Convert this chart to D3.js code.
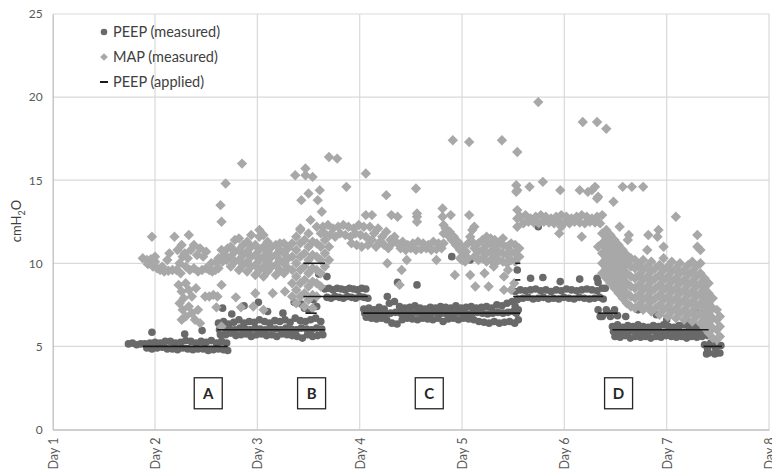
<!DOCTYPE html>
<html><head><meta charset="utf-8">
<script src="https://cdn.jsdelivr.net/npm/d3@7"></script>
<style>body{margin:0;background:#fff} svg text{font-family:Lato,"Open Sans",sans-serif}</style>
</head><body><svg id="c" width="772" height="473"></svg>
<script>
// ---------- data ----------
const yTicks = [0, 5, 10, 15, 20, 25];
const dayValues = [1, 2, 3, 4, 5, 6, 7, 8];
const dayLabels = ["Day 1", "Day 2", "Day 3", "Day 4", "Day 5", "Day 6", "Day 7", "Day 8"];
const seriesNames = ["PEEP (measured)", "MAP (measured)", "PEEP (applied)"];

// PEEP applied: start day, end day, value
const applyStart = [1.88, 2.61, 3.45, 3.45, 3.47, 4.03, 5.52, 5.52, 5.50, 6.33, 6.47, 7.36];
const applyEnd   = [2.71, 3.66, 3.66, 4.08, 3.58, 5.57, 5.57, 5.57, 6.38, 6.52, 7.41, 7.54];
const applyValue = [5, 6, 10, 8, 7, 7, 10, 9, 8, 7, 6, 5];

// PEEP measured [day, cmH2O]
const peepMeasured = [
[1.74,5.15],[1.78,5.2],[1.82,5.1],[1.86,5.15],
[1.90,5.15],[1.95,5.2],[2.00,5.25],[2.05,5.2],[2.10,5.3],[2.15,5.3],[2.20,5.2],[2.25,5.25],[2.30,5.35],[2.35,5.3],[2.40,5.2],[2.45,5.3],[2.50,5.25],[2.55,5.35],[2.60,5.2],[2.65,5.3],[2.70,5.2],
[1.92,4.9],[1.97,4.85],[2.02,4.9],[2.07,4.95],[2.12,4.85],[2.17,4.85],[2.22,4.8],[2.27,4.9],[2.32,4.85],[2.37,4.8],[2.42,4.85],[2.47,4.85],[2.52,4.75],[2.57,4.8],[2.62,4.85],[2.67,4.8],[2.71,4.75],
[1.97,5.85],[2.29,5.75],[2.46,5.95],[2.64,5.7],
[2.62,6.4],[2.67,6.5],[2.72,6.35],[2.77,6.45],[2.82,6.6],[2.87,6.4],[2.92,6.5],[2.97,6.45],[3.02,6.6],[3.07,6.5],[3.12,6.4],[3.17,6.55],[3.22,6.5],[3.27,6.6],[3.32,6.45],[3.37,6.7],[3.42,6.55],[3.47,6.5],[3.52,6.6],[3.57,6.7],[3.62,6.5],
[2.63,6.0],[2.68,6.1],[2.73,6.05],[2.78,6.0],[2.83,6.1],[2.88,6.05],[2.93,6.0],[2.98,6.1],[3.03,6.05],[3.08,6.0],[3.13,6.1],[3.18,6.05],[3.23,6.0],[3.28,6.1],[3.33,6.05],[3.38,6.0],[3.43,6.1],[3.48,6.05],[3.53,6.0],[3.58,6.1],[3.63,6.05],
[2.64,5.75],[2.69,5.7],[2.74,5.8],[2.79,5.65],[2.84,5.7],[2.89,5.75],[2.94,5.6],[2.99,5.7],[3.04,5.75],[3.09,5.65],[3.14,5.7],[3.19,5.6],[3.24,5.75],[3.29,5.7],[3.34,5.65],[3.39,5.6],[3.44,5.5],[3.49,5.7],[3.54,5.6],[3.59,5.65],[3.64,5.7],
[2.66,7.3],[2.87,7.45],[3.01,7.65],[3.36,7.65],[3.43,7.55],[3.60,9.35],[3.68,9.2],[2.75,6.95],[3.10,7.1],[3.25,7.0],[3.50,7.2],[3.55,7.8],[3.58,7.4],[3.46,7.3],
[3.66,8.45],[3.70,8.5],[3.74,8.4],[3.78,8.5],[3.82,8.45],[3.86,8.4],[3.90,8.5],[3.94,8.45],[3.98,8.4],[4.02,8.5],[4.06,8.45],
[3.68,7.95],[3.72,7.9],[3.76,8.0],[3.80,7.95],[3.84,7.9],[3.88,8.0],[3.92,7.95],[3.96,7.9],[4.00,8.0],[4.04,7.95],[4.08,7.9],
[4.04,7.25],[4.09,7.3],[4.14,7.2],[4.19,7.35],[4.24,7.25],[4.29,7.6],[4.34,7.7],[4.39,7.4],[4.44,7.3],[4.49,7.35],[4.54,7.45],[4.59,7.3],[4.64,7.25],[4.69,7.35],[4.74,7.3],[4.79,7.4],[4.84,7.35],[4.89,7.3],[4.94,7.45],[4.99,7.3],[5.04,7.35],[5.09,7.4],[5.14,7.3],[5.19,7.35],[5.24,7.4],[5.29,7.3],[5.34,7.5],[5.39,7.45],[5.44,7.6],[5.49,7.7],[5.54,7.8],
[4.05,7.0],[4.10,6.95],[4.15,7.05],[4.20,7.0],[4.25,6.95],[4.30,7.0],[4.35,7.05],[4.40,7.0],[4.45,6.95],[4.50,7.0],[4.55,7.05],[4.60,7.0],[4.65,6.95],[4.70,7.0],[4.75,7.05],[4.80,7.0],[4.85,6.95],[4.90,7.0],[4.95,7.05],[5.00,7.0],[5.05,6.95],[5.10,7.0],[5.15,7.05],[5.20,7.0],[5.25,6.95],[5.30,7.0],[5.35,7.05],[5.40,7.0],[5.45,7.05],[5.50,7.1],[5.55,7.2],
[4.065,6.75],[4.115,6.7],[4.165,6.65],[4.215,6.7],[4.265,6.6],[4.315,6.4],[4.365,6.35],[4.415,6.6],[4.465,6.7],[4.515,6.65],[4.565,6.6],[4.615,6.7],[4.665,6.65],[4.715,6.6],[4.765,6.7],[4.815,6.5],[4.865,6.65],[4.915,6.7],[4.965,6.6],[5.015,6.7],[5.065,6.65],[5.115,6.6],[5.165,6.5],[5.215,6.45],[5.265,6.4],[5.315,6.5],[5.365,6.4],[5.415,6.45],[5.465,6.5],[5.515,6.4],[5.55,6.6],
[4.27,8.0],[4.37,8.85],[4.56,8.7],[4.90,10.4],[5.08,10.2],
[5.52,8.3],[5.57,8.4],[5.62,8.35],[5.67,8.4],[5.72,8.45],[5.77,8.35],[5.82,8.4],[5.87,8.3],[5.92,8.4],[5.97,8.35],[6.02,8.45],[6.07,8.4],[6.12,8.35],[6.17,8.4],[6.22,8.45],[6.27,8.4],[6.32,8.35],[6.37,8.5],
[5.545,7.85],[5.595,7.9],[5.645,7.95],[5.695,7.85],[5.745,7.9],[5.795,7.95],[5.845,7.85],[5.895,7.9],[5.945,7.85],[5.995,7.95],[6.045,7.9],[6.095,7.85],[6.145,7.95],[6.195,7.9],[6.245,7.85],[6.295,7.9],[6.345,7.95],[6.38,7.85],
[5.52,7.4],[5.53,7.0],[5.54,9.6],[5.67,9.1],[5.79,9.15],[5.96,8.9],[6.15,9.05],[6.32,9.1],[5.745,12.2],
[6.33,7.2],[6.37,6.8],[6.41,7.2],[6.45,6.8],[6.49,7.2],[6.52,6.85],[6.35,6.8],[6.43,7.0],[6.33,8.85],[6.40,8.5],
[6.47,6.2],[6.52,6.3],[6.57,6.15],[6.62,6.25],[6.67,6.2],[6.72,6.3],[6.77,6.2],[6.82,6.15],[6.87,6.25],[6.92,6.2],[6.97,6.3],[7.02,6.2],[7.07,6.15],[7.12,6.25],[7.17,6.3],[7.22,6.2],[7.27,6.25],[7.32,6.2],[7.37,6.3],
[6.48,5.9],[6.53,5.95],[6.58,5.85],[6.63,5.9],[6.68,5.95],[6.73,5.9],[6.78,5.85],[6.83,5.9],[6.88,5.95],[6.93,5.9],[6.98,5.85],[7.03,5.9],[7.08,5.95],[7.13,5.9],[7.18,5.85],[7.23,5.9],[7.28,5.95],[7.33,5.9],[7.38,5.85],
[6.495,5.6],[6.545,5.55],[6.595,5.65],[6.645,5.5],[6.695,5.6],[6.745,5.55],[6.795,5.6],[6.845,5.5],[6.895,5.6],[6.945,5.55],[6.995,5.65],[7.045,5.6],[7.095,5.55],[7.145,5.6],[7.195,5.5],[7.245,5.6],[7.295,5.55],[7.345,5.6],[7.40,5.65],
[6.60,6.8],[6.72,7.2],[6.90,6.9],[7.00,6.6],[7.12,7.0],[7.20,6.5],[7.28,7.3],
[7.37,5.1],[7.41,4.6],[7.45,5.1],[7.49,4.6],[7.53,5.05],[7.39,4.55],[7.47,4.55],[7.52,4.6],[7.43,5.2],[7.40,4.85],[7.48,4.85]
];

// MAP measured [day, cmH2O]
const mapMeasured = [
[1.88,10.3],[1.92,10.2],[1.96,10.25],[2.00,10.1],[1.93,9.95],[1.98,9.8],[2.02,9.7],[2.00,10.4],[1.97,11.6],
[2.05,9.6],[2.09,9.5],[2.13,9.55],[2.17,9.6],[2.07,9.8],[2.12,10.2],[2.14,10.6],[2.19,11.6],
[2.21,9.6],[2.24,10.0],[2.27,10.4],[2.22,10.8],[2.26,11.1],[2.29,10.6],[2.30,9.8],[2.25,9.4],
[2.32,10.3],[2.35,10.8],[2.38,11.1],[2.41,10.5],[2.44,10.9],[2.47,10.4],[2.50,10.7],[2.33,11.7],
[2.34,9.6],[2.38,9.7],[2.42,9.5],[2.46,9.6],[2.50,9.7],
[2.53,9.6],[2.56,9.5],[2.59,9.6],[2.62,9.7],[2.55,10.0],[2.60,10.1],
[2.62,10.3],[2.65,10.8],[2.68,10.5],[2.71,10.9],[2.66,10.1],[2.70,10.2],
[2.64,13.5],[2.65,12.5],[2.69,14.8],[2.85,16.0],
[2.74,9.8],[2.74,10.4],[2.74,11.0],
[2.78,10.1],[2.78,10.7],[2.78,11.4],
[2.82,9.6],[2.82,10.2],[2.82,10.8],[2.82,11.5],
[2.86,9.9],[2.86,10.5],[2.86,11.1],
[2.90,9.5],[2.90,10.1],[2.90,10.7],[2.90,11.3],
[2.94,9.8],[2.94,10.4],[2.94,11.0],[2.94,11.7],
[2.98,9.3],[2.98,9.9],[2.98,10.5],[2.98,11.1],
[3.02,9.6],[3.02,10.2],[3.02,10.8],[3.02,11.6],[3.02,12.0],
[3.06,9.2],[3.06,9.8],[3.06,10.4],[3.06,11.0],[3.06,11.7],
[3.10,9.5],[3.10,10.1],[3.10,10.7],[3.10,11.3],
[3.14,9.8],[3.14,10.4],[3.14,11.0],
[3.18,9.3],[3.18,9.9],[3.18,10.5],[3.18,11.1],
[3.22,9.6],[3.22,10.2],[3.22,10.8],[3.22,11.2],
[3.26,9.4],[3.26,10.0],[3.26,10.6],[3.26,11.2],
[3.30,9.7],[3.30,10.3],[3.30,10.9],
[2.23,8.7],[2.26,8.3],[2.30,8.8],[2.33,8.4],[2.36,8.0],[2.40,8.5],[2.28,7.9],[2.24,7.6],[2.27,7.2],[2.30,6.8],[2.33,7.4],[2.36,7.0],[2.39,6.6],[2.42,7.2],[2.44,6.4],[2.26,6.6],
[2.49,8.0],[2.53,8.0],[2.57,8.1],[2.61,8.0],[2.65,8.7],[2.79,7.95],[2.84,7.35],[2.65,6.2],[2.60,7.35],
[3.15,8.2],[3.27,8.3],[2.98,8.2],[2.96,7.4],[3.06,7.2],
[3.34,8.0],[3.34,8.8],[3.34,9.6],[3.34,10.4],[3.34,11.2],
[3.38,7.6],[3.38,8.4],[3.38,9.2],[3.38,10.0],[3.38,10.8],[3.38,11.6],
[3.42,8.0],[3.42,8.8],[3.42,9.6],[3.42,10.4],[3.42,11.2],[3.42,12.0],
[3.46,7.4],[3.46,8.2],[3.46,9.0],[3.46,9.8],[3.46,10.6],[3.46,11.4],
[3.50,7.8],[3.50,8.6],[3.50,9.4],[3.50,10.2],[3.50,11.0],[3.50,11.8],
[3.54,7.3],[3.54,8.1],[3.54,8.9],[3.54,9.7],[3.54,10.5],[3.54,11.3],
[3.58,8.0],[3.58,8.8],[3.58,9.6],[3.58,10.4],[3.58,11.2],[3.58,12.2],
[3.62,8.6],[3.62,9.4],[3.62,10.2],[3.62,11.0],[3.62,11.8],
[3.66,9.8],[3.66,10.6],[3.66,11.4],[3.70,10.2],[3.70,11.0],
[3.43,13.8],[3.47,15.7],[3.37,15.3],[3.47,15.3],[3.54,15.2],[3.70,16.4],[3.78,16.3],[4.06,15.4],[3.87,14.6],[3.50,14.2],[3.61,14.4],[3.59,13.8],[3.63,13.1],[3.52,12.6],[3.42,12.1],
[3.64,12.2],[3.69,12.3],[3.74,12.1],[3.79,12.2],[3.84,12.3],[3.89,12.2],[3.94,12.1],[3.99,12.3],[4.04,12.2],
[3.66,11.8],[3.71,11.7],[3.76,11.6],[3.81,11.8],[3.86,11.7],[3.91,11.6],[3.96,11.8],[4.01,11.7],[4.06,11.6],
[3.92,11.2],[3.97,11.1],[4.02,11.0],[4.08,11.1],
[4.10,12.2],[4.14,11.8],[4.18,12.1],[4.22,11.6],[4.26,11.9],[4.30,11.4],[4.12,11.4],[4.16,11.0],[4.20,11.3],[4.24,11.1],[4.28,10.9],[4.32,11.2],[4.34,11.6],
[4.06,12.9],[4.12,12.9],[4.31,12.9],[4.37,12.8],[4.26,14.1],[4.55,14.5],
[4.37,11.2],[4.42,11.3],[4.47,11.1],[4.52,11.2],[4.57,11.3],[4.62,11.2],[4.67,11.1],[4.72,11.3],[4.77,11.2],[4.82,11.2],
[4.40,10.9],[4.45,10.8],[4.50,10.9],[4.55,10.8],[4.60,10.85],[4.65,10.9],[4.70,10.8],[4.75,10.85],[4.80,10.9],
[4.56,12.8],[4.56,12.5],[4.56,13.0],[4.81,13.3],[4.81,12.8],[4.82,12.3],[4.82,11.8],[4.89,12.9],[5.07,12.9],
[4.27,10.0],[4.46,10.2],[4.41,9.6],[4.39,8.7],[4.75,10.2],[4.93,9.3],[5.08,9.3],[5.13,8.6],
[4.84,12.1],[4.86,11.7],[4.88,11.9],[4.90,11.4],[4.92,11.6],[4.94,11.1],[4.96,11.3],[4.98,10.8],[5.00,11.0],[5.02,10.5],[5.04,10.7],[5.06,10.3],[4.98,10.3],[5.00,10.2],[5.03,10.1],
[5.06,11.2],[5.08,11.6],[5.10,12.0],[5.12,12.2],[5.10,11.3],
[5.12,10.4],[5.12,10.9],
[5.16,10.2],[5.16,10.7],[5.16,11.2],
[5.20,10.3],[5.20,10.8],[5.20,11.4],
[5.24,10.1],[5.24,10.6],[5.24,11.1],[5.24,11.6],
[5.28,10.2],[5.28,10.7],[5.28,11.2],[5.28,11.5],
[5.32,10.0],[5.32,10.5],[5.32,11.0],[5.32,11.4],
[5.36,10.2],[5.36,10.7],[5.36,11.2],
[5.40,10.1],[5.40,10.6],[5.40,11.1],[5.40,11.5],
[5.44,10.0],[5.44,10.5],[5.44,11.0],
[5.48,10.2],[5.48,10.7],[5.48,11.2],
[5.52,10.1],[5.52,10.6],[5.52,11.1],
[5.56,10.4],[5.56,10.9],
[5.22,9.4],[5.26,8.6],[5.31,9.8],[5.41,9.2],[5.48,8.4],[5.51,8.8],[5.45,9.6],[5.41,8.4],
[5.54,12.2],[5.54,12.7],[5.54,13.2],[5.53,14.3],[5.53,14.7],[5.54,14.4],
[5.57,12.8],[5.62,12.9],[5.67,12.7],[5.72,12.8],[5.77,12.9],[5.82,12.8],[5.87,12.7],[5.92,12.8],[5.97,12.9],[6.02,12.8],[6.07,12.7],[6.12,12.8],[6.17,12.9],[6.22,12.8],[6.27,12.7],[6.32,12.8],[6.37,12.9],
[5.60,12.4],[5.65,12.5],[5.70,12.45],[5.75,12.4],[5.80,12.5],[5.85,12.45],[5.90,12.4],[5.95,12.5],[6.00,12.45],[6.05,12.4],[6.10,12.5],[6.15,12.45],[6.20,12.4],[6.25,12.5],[6.30,12.45],[6.35,12.4],
[5.66,14.6],[5.79,14.9],[5.96,14.4],[6.15,14.4],[6.23,14.3],[6.30,14.6],[6.33,14.0],[5.95,11.8],[6.17,11.6],[6.33,11.0],[5.97,12.2],
[5.745,19.7],[4.91,17.4],[5.07,17.3],[5.39,17.4],[5.54,16.7],[6.18,18.5],[6.32,18.5],[6.41,18.1],
[6.27,14.4],[6.32,13.9],[6.48,13.7],
[6.37,9.4],[6.37,10.0],[6.37,10.6],[6.37,11.2],[6.37,11.8],
[6.41,9.1],[6.41,9.7],[6.41,10.3],[6.41,10.9],[6.41,11.5],[6.41,12.0],
[6.45,8.8],[6.45,9.4],[6.45,10.0],[6.45,10.6],[6.45,11.2],[6.45,11.7],
[6.49,8.5],[6.49,9.1],[6.49,9.7],[6.49,10.3],[6.49,10.9],[6.49,11.4],
[6.53,8.2],[6.53,8.8],[6.53,9.4],[6.53,10.0],[6.53,10.6],[6.53,11.1],
[6.57,7.9],[6.57,8.5],[6.57,9.1],[6.57,9.7],[6.57,10.3],[6.57,10.8],
[6.61,7.6],[6.61,8.2],[6.61,8.8],[6.61,9.4],[6.61,10.0],[6.61,10.5],
[6.65,7.4],[6.65,8.0],[6.65,8.6],[6.65,9.2],[6.65,9.8],[6.65,10.3],
[6.69,7.3],[6.69,7.9],[6.69,8.5],[6.69,9.1],[6.69,9.7],[6.69,10.2],
[6.73,7.5],[6.73,8.1],[6.73,8.7],[6.73,9.3],[6.73,9.9],
[6.77,7.2],[6.77,7.8],[6.77,8.4],[6.77,9.0],[6.77,9.6],[6.77,10.2],
[6.81,7.4],[6.81,8.0],[6.81,8.6],[6.81,9.2],[6.81,9.8],
[6.85,7.1],[6.85,7.7],[6.85,8.3],[6.85,8.9],[6.85,9.5],[6.85,10.1],
[6.89,7.3],[6.89,7.9],[6.89,8.5],[6.89,9.1],[6.89,9.7],
[6.93,6.9],[6.93,7.5],[6.93,8.1],[6.93,8.7],[6.93,9.3],[6.93,9.9],
[6.97,7.2],[6.97,7.8],[6.97,8.4],[6.97,9.0],[6.97,9.6],[6.97,10.3],
[7.01,6.8],[7.01,7.4],[7.01,8.0],[7.01,8.6],[7.01,9.2],[7.01,9.8],
[7.05,7.1],[7.05,7.7],[7.05,8.3],[7.05,8.9],[7.05,9.5],[7.05,10.1],
[7.09,6.7],[7.09,7.3],[7.09,7.9],[7.09,8.5],[7.09,9.1],[7.09,9.7],
[7.13,7.0],[7.13,7.6],[7.13,8.2],[7.13,8.8],[7.13,9.4],[7.13,10.0],
[7.17,6.6],[7.17,7.2],[7.17,7.8],[7.17,8.4],[7.17,9.0],[7.17,9.6],
[7.21,6.9],[7.21,7.5],[7.21,8.1],[7.21,8.7],[7.21,9.3],[7.21,9.9],
[7.25,6.5],[7.25,7.1],[7.25,7.7],[7.25,8.3],[7.25,8.9],[7.25,9.5],[7.25,10.1],
[7.29,6.8],[7.29,7.4],[7.29,8.0],[7.29,8.6],[7.29,9.2],[7.29,9.8],
[7.33,6.4],[7.33,7.0],[7.33,7.6],[7.33,8.2],[7.33,8.8],[7.33,9.4],[7.33,10.0],
[7.37,6.1],[7.37,6.7],[7.37,7.3],[7.37,7.9],[7.37,8.5],[7.37,9.1],
[7.41,5.8],[7.41,6.4],[7.41,7.0],[7.41,7.6],[7.41,8.2],[7.41,8.8],
[7.45,5.5],[7.45,6.1],[7.45,6.7],[7.45,7.3],[7.45,7.9],
[7.49,5.4],[7.49,6.0],[7.49,6.6],[7.49,7.2],
[7.52,5.6],[7.52,6.2],[7.52,6.8],
[6.57,14.6],[6.66,14.6],[6.77,14.6],[7.09,12.8],[6.54,12.2],[6.63,11.7],[6.82,11.7],[6.92,12.0],[7.30,11.7],[6.97,11.0],[6.81,10.8],[7.30,11.0],[7.33,10.8],[6.62,11.4],[6.91,11.6]
];

// annotation boxes
const boxLabels = ["A", "B", "C", "D"];
const boxDays = [2.52, 3.53, 4.68, 6.53];
const boxValue = 2.18;

// ---------- drawing ----------
const svg = d3.select("#c");
const x = d3.scaleLinear().domain([1, 8]).range([52.7, 769]);
const y = d3.scaleLinear().domain([0, 25]).range([429.5, 14]);

const grid = svg.append("g");
grid.selectAll(".hg").data(yTicks.slice(1)).join("line")
  .attr("x1", x(1)).attr("x2", x(8))
  .attr("y1", d => y(d)).attr("y2", d => y(d))
  .attr("stroke", "#d9d9d9").attr("stroke-width", 1.2);
grid.selectAll(".vg").data(dayValues.slice(1)).join("line")
  .attr("x1", d => x(d)).attr("x2", d => x(d))
  .attr("y1", y(0)).attr("y2", y(25))
  .attr("stroke", "#d9d9d9").attr("stroke-width", 1.2);

// axes
const yAxis = svg.append("g").attr("transform", `translate(${x(1)},0)`)
  .call(d3.axisLeft(y).tickValues(yTicks).tickSize(0).tickPadding(10));
yAxis.select(".domain").attr("stroke", "#bfbfbf").attr("stroke-width", 1.3);
yAxis.selectAll("text").attr("font-size", 12).attr("fill", "#595959")
  .attr("font-family", "Lato, 'Open Sans', sans-serif");

const xAxis = svg.append("g").attr("transform", `translate(0,${y(0)})`)
  .call(d3.axisBottom(x).tickValues(dayValues).tickFormat((d, i) => dayLabels[i]).tickSize(0));
xAxis.select(".domain").attr("stroke", "#bfbfbf").attr("stroke-width", 1.3);
xAxis.selectAll("text")
  .attr("transform", "rotate(-90)")
  .attr("text-anchor", "end")
  .attr("x", -8).attr("y", 0).attr("dy", "0.35em")
  .attr("font-size", 12.5).attr("fill", "#595959")
  .attr("font-family", "Lato, 'Open Sans', sans-serif");

// y title
const yt = svg.append("text").attr("transform", "translate(21,221) rotate(-90)")
  .attr("text-anchor", "middle").attr("font-size", 13).attr("fill", "#404040");
yt.append("tspan").text("cmH");
yt.append("tspan").text("2").attr("font-size", 9).attr("dy", 4);
yt.append("tspan").text("O").attr("dy", -4);

const diamond = r => `M0,${-r}L${r},0L0,${r}L${-r},0Z`;

// series
svg.append("g").selectAll("circle").data(peepMeasured).join("circle")
  .attr("cx", d => x(d[0])).attr("cy", d => y(d[1])).attr("r", 3.8)
  .attr("fill", "#696969");

svg.append("g").selectAll("path").data(mapMeasured).join("path")
  .attr("transform", d => `translate(${x(d[0])},${y(d[1])})`)
  .attr("d", diamond(5.2)).attr("fill", "#a8a8a8");

svg.append("g").selectAll("line").data(applyValue).join("line")
  .attr("x1", (d, i) => x(applyStart[i])).attr("x2", (d, i) => x(applyEnd[i]))
  .attr("y1", d => y(d)).attr("y2", d => y(d))
  .attr("stroke", "#1a1a1a").attr("stroke-width", 1.6);

// annotation boxes
const bx = svg.append("g").selectAll("g").data(boxLabels).join("g")
  .attr("transform", (d, i) => `translate(${x(boxDays[i])},${y(boxValue)})`);
bx.append("rect").attr("x", -14).attr("y", -15.5).attr("width", 28).attr("height", 31)
  .attr("fill", "#fff").attr("stroke", "#262626").attr("stroke-width", 1.3);
bx.append("text").text(d => d).attr("text-anchor", "middle").attr("dy", "0.36em")
  .attr("font-size", 15).attr("font-weight", "bold").attr("fill", "#262626");

// legend
const lg = svg.append("g");
const ly = [32, 57, 82];
lg.append("circle").attr("cx", 104).attr("cy", ly[0]).attr("r", 3.3).attr("fill", "#696969");
lg.append("path").attr("transform", `translate(104,${ly[1]})`).attr("d", diamond(3.8)).attr("fill", "#a8a8a8");
lg.append("line").attr("x1", 100).attr("x2", 108).attr("y1", ly[2]).attr("y2", ly[2]).attr("stroke", "#1a1a1a").attr("stroke-width", 2);
lg.selectAll("text").data(seriesNames).join("text")
  .attr("x", 113).attr("y", (d, i) => ly[i]).attr("dy", "0.35em")
  .attr("font-size", 14.5).attr("fill", "#404040").text(d => d);
</script>
</body></html>
